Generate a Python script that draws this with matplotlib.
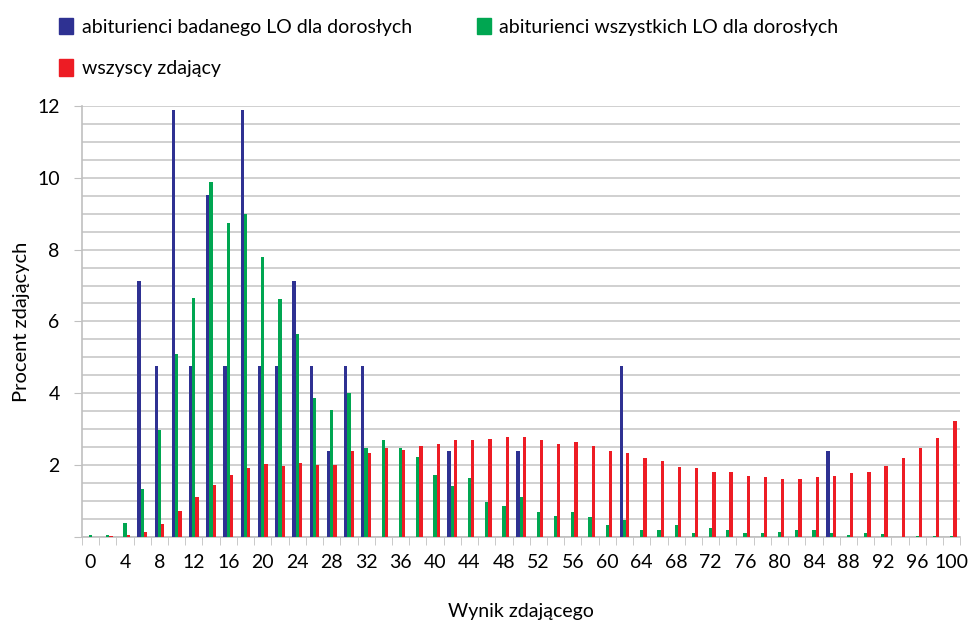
import numpy as np
import matplotlib.pyplot as plt
from matplotlib.patches import Patch
from matplotlib.ticker import MultipleLocator, FixedLocator

plt.rcParams['font.family'] = ['Lato', 'DejaVu Sans']

wyniki = list(range(0, 101, 2))

badany_lo = [0, 0, 0, 7.14, 4.76, 11.9, 4.76, 9.52, 4.76, 11.9,
             4.76, 4.76, 7.14, 4.76, 2.38, 4.76, 4.76, 0, 0, 0,
             0, 2.38, 0, 0, 0, 2.38, 0, 0, 0, 0,
             0, 4.76, 0, 0, 0, 0, 0, 0, 0, 0,
             0, 0, 0, 2.38, 0, 0, 0, 0, 0, 0, 0]

wszystkie_lo = [0.05, 0.05, 0.39, 1.34, 2.98, 5.1, 6.66, 9.88, 8.73, 9.0,
                7.8, 6.62, 5.66, 3.88, 3.53, 4.02, 2.47, 2.70, 2.47, 2.24,
                1.72, 1.42, 1.63, 0.98, 0.85, 1.12, 0.69, 0.59, 0.69, 0.56,
                0.33, 0.47, 0.2, 0.2, 0.33, 0.11, 0.25, 0.2, 0.11, 0.11,
                0.14, 0.2, 0.2, 0.11, 0.06, 0.11, 0.08, 0.0, 0.03, 0.03, 0.03]

wszyscy = [0.01, 0.02, 0.05, 0.14, 0.37, 0.71, 1.11, 1.45, 1.73, 1.93,
           2.04, 1.97, 2.05, 2.01, 1.99, 2.40, 2.34, 2.48, 2.43, 2.53,
           2.58, 2.69, 2.71, 2.74, 2.77, 2.78, 2.71, 2.60, 2.65, 2.53,
           2.40, 2.34, 2.20, 2.11, 1.96, 1.93, 1.81, 1.80, 1.69, 1.67,
           1.62, 1.61, 1.67, 1.69, 1.78, 1.81, 1.97, 2.19, 2.47, 2.75, 3.23]

etykiety = ['abiturienci badanego LO dla dorosłych',
            'abiturienci wszystkich LO dla dorosłych',
            'wszyscy zdający']
kolory = ['#2e3192', '#00a651', '#ed1c24']

fig = plt.figure(figsize=(9.75, 6.22), dpi=100)
ax = fig.add_axes([0.084, 0.1367, 0.901, 0.693])

x = np.arange(len(wyniki))
w = 0.19
ax.bar(x - w, badany_lo, w, color=kolory[0], zorder=3)
ax.bar(x, wszystkie_lo, w, color=kolory[1], zorder=3)
ax.bar(x + w, wszyscy, w, color=kolory[2], zorder=3)

ax.set_xlim(-0.5, len(wyniki) - 0.5)
ax.set_ylim(0, 12)

# siatka co 0.5, opisy co 2
ax.yaxis.set_major_locator(MultipleLocator(2))
ax.yaxis.set_minor_locator(MultipleLocator(0.5))
ax.set_yticklabels(['' if v == 0 else '%d' % v for v in ax.get_yticks()])
ax.grid(axis='y', which='both', color='#c8c8c8', linewidth=1.2, zorder=0)
ax.tick_params(axis='y', which='major', length=6, color='#c0c0c0', pad=10, labelsize=14)
ax.tick_params(axis='y', which='minor', length=0)

ax.set_xticks(x[::2])
ax.set_xticklabels([str(v) for v in wyniki[::2]])
ax.xaxis.set_minor_locator(FixedLocator(np.arange(-0.5, len(wyniki), 1)))
ax.tick_params(axis='x', which='major', length=0, pad=12, labelsize=14)
ax.tick_params(axis='x', which='minor', length=6, color='#c0c0c0')

for s in ['top', 'right']:
    ax.spines[s].set_visible(False)
for s in ['left', 'bottom']:
    ax.spines[s].set_color('#c0c0c0')
    ax.spines[s].set_linewidth(1.2)

ax.set_xlabel('Wynik zdającego', fontsize=14, labelpad=23)
ax.set_ylabel('Procent zdających', fontsize=14.5, labelpad=5)

uchwyty = [Patch(color=c) for c in kolory]
order = [0, 2, 1]
fig.legend([uchwyty[i] for i in order], [etykiety[i] for i in order],
           ncol=2, loc='upper left', bbox_to_anchor=(0.043, 1.0),
           frameon=False, fontsize=14, handlelength=0.7, handleheight=0.95,
           handletextpad=0.45, columnspacing=3.35, labelspacing=1.2)

fig.savefig('out.png', dpi=100)
